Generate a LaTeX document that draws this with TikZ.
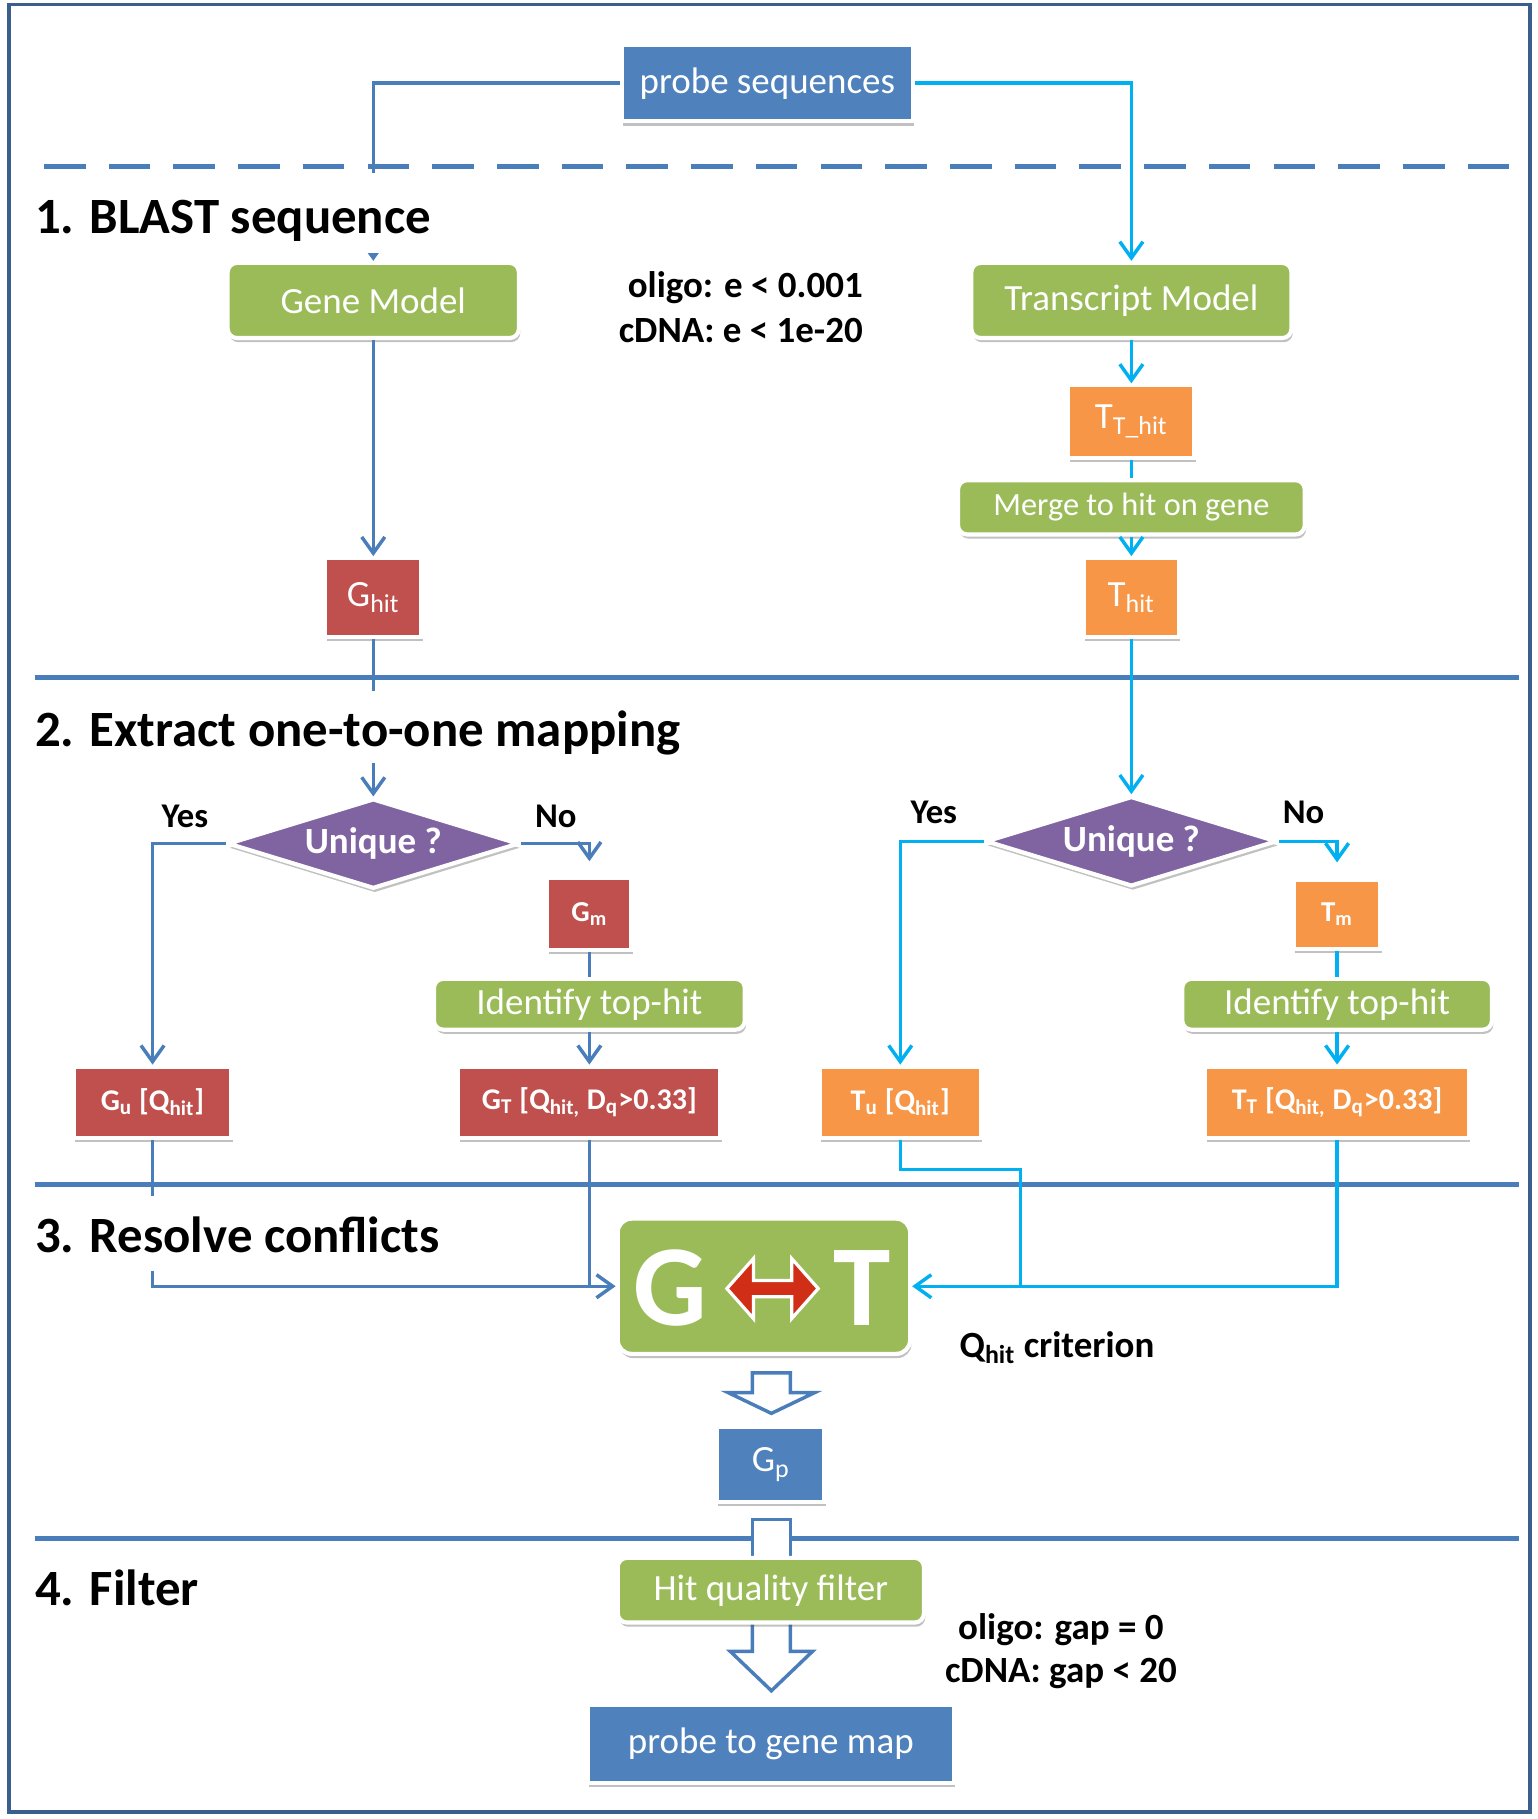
\documentclass[tikz,border=0pt]{standalone}
\usepackage{fontspec}
\setmainfont{Carlito}
\usetikzlibrary{arrows.meta,shapes.geometric,shadows,calc}
\definecolor{cblue}{HTML}{4F81BD}
\definecolor{cgreen}{HTML}{9BBB59}
\definecolor{cred}{HTML}{C0504D}
\definecolor{corange}{HTML}{F79646}
\definecolor{cpurple}{HTML}{8064A2}
\definecolor{ccyan}{HTML}{00B0F0}
\definecolor{cline}{HTML}{4A7EBB}
\definecolor{cframe}{HTML}{3B5F8C}
\definecolor{carrowred}{RGB}{208,46,22}
\newcommand{\myfs}[1]{\fontsize{#1}{#1}\selectfont}
\pgfdeclarelayer{bg}
\pgfsetlayers{bg,main}
\begin{document}
\begin{tikzpicture}[x=0.5pt,y=-0.5pt,
  box/.style={draw=white, line width=1.8pt, text=white, inner sep=0pt, align=center,
    drop shadow={shadow xshift=0.6pt, shadow yshift=-1.8pt, opacity=0.35, fill=black!70}},
  bluebox/.style={box, fill=cblue, font=\myfs{16pt}},
  greenbox/.style={box, fill=cgreen, rounded corners=4pt, font=\myfs{16pt}},
  redbox/.style={box, fill=cred, font=\myfs{16pt}},
  orbox/.style={box, fill=corange, font=\myfs{16pt}},
  smallbold/.style={font=\bfseries\myfs{13pt}},
  dia/.style={diamond, fill=cpurple, draw=white, line width=1.8pt, text=white,
    font=\bfseries\myfs{16pt}, inner sep=0pt, minimum width=126pt, minimum height=39pt,
    shape aspect=3.2, drop shadow={shadow xshift=0.6pt, shadow yshift=-1.8pt, opacity=0.35, fill=black!70}},
  lab/.style={font=\bfseries\myfs{16pt}, inner sep=0pt},
  yn/.style={font=\bfseries\myfs{15pt}, inner sep=0pt},
  title/.style={font=\bfseries\myfs{22pt}, fill=white, inner sep=0pt, anchor=base west},
  sl/.style={draw=cline, line width=1.5pt},
  cl/.style={draw=ccyan, line width=1.5pt},
  arr/.style={-{Straight Barb[length=7pt,width=10pt]}},
  blockarrow/.style={draw=cline, fill=white, line width=1.5pt, line join=miter}
]
\useasboundingbox (0,0) rectangle (1330,1574);
\draw[cframe, line width=1.6pt] (8,4) rectangle (1324,1568);

% ---- nodes ----
\node[bluebox, minimum width=126pt, minimum height=33pt] (probe) at (664,72) {probe sequences};
\node[greenbox, minimum width=126pt, minimum height=32.5pt] (gm) at (323,260) {Gene Model};
\node[greenbox, minimum width=138.5pt, minimum height=32.5pt] (tm) at (979,260) {Transcript Model};
\node[orbox, minimum width=54.5pt, minimum height=31.5pt] (tth) at (979,365) {T\textsubscript{T\_hit}};
\node[greenbox, minimum width=150pt, minimum height=23.5pt, font=\myfs{14pt}] (merge) at (979,439) {Merge to hit on gene};
\node[redbox, minimum width=41.5pt, minimum height=34pt] (ghit) at (323,517) {G\textsubscript{hit}};
\node[orbox, minimum width=41pt, minimum height=34pt] (thit) at (979,517) {T\textsubscript{hit}};

\node[dia] (ld) at (323,730) {Unique ?};
\node[dia] (rd) at (979,728) {Unique ?};

\node[redbox, font=\bfseries\myfs{12.5pt}, minimum width=36.5pt, minimum height=31pt] (gmm) at (510,791) {G\textsubscript{m}};
\node[greenbox, minimum width=134.5pt, minimum height=22pt] (idl) at (510,869) {Identify top-hit};
\node[redbox, smallbold, minimum width=113.5pt, minimum height=31pt] (gt) at (510,954) {G\textsubscript{T} [Q\textsubscript{hit,} D\textsubscript{q}>0.33]};
\node[redbox, smallbold, minimum width=68pt, minimum height=31pt] (gu) at (132,954) {G\textsubscript{u} [Q\textsubscript{hit}]};

\node[orbox, font=\bfseries\myfs{12.5pt}, minimum width=37.5pt, minimum height=30pt] (tmm) at (1157,791) {T\textsubscript{m}};
\node[greenbox, minimum width=134pt, minimum height=22pt] (idr) at (1157,869) {Identify top-hit};
\node[orbox, smallbold, minimum width=114pt, minimum height=31pt] (tt) at (1157,954) {T\textsubscript{T} [Q\textsubscript{hit,} D\textsubscript{q}>0.33]};
\node[orbox, smallbold, minimum width=69.5pt, minimum height=31pt] (tu) at (779,954) {T\textsubscript{u} [Q\textsubscript{hit}]};

\node[greenbox, rounded corners=6pt, minimum width=126.5pt, minimum height=58.5pt] (gtbox) at (661,1113) {};
\node[text=white, font=\bfseries\myfs{50pt}, inner sep=0pt, anchor=base] (gl) at (580,1147) {G};
\node[text=white, font=\bfseries\myfs{50pt}, inner sep=0pt, anchor=base] (tl) at (746,1147) {T};
\fill[carrowred, draw=white, line width=1.4pt, line join=miter]
  (629,1115) -- (652,1089) -- (652,1108) -- (685,1108) -- (685,1089) -- (708,1115)
  -- (685,1141) -- (685,1122) -- (652,1122) -- (652,1141) -- cycle;

\node[bluebox, minimum width=46.5pt, minimum height=32.5pt] (gp) at (667,1267) {G\textsubscript{p}};
\node[greenbox, minimum width=132.5pt, minimum height=28pt] (hqf) at (667,1376) {Hit quality filter};
\node[bluebox, minimum width=158.5pt, minimum height=33.5pt] (ptg) at (667,1509) {probe to gene map};

% ---- background: section lines and block arrows ----
\begin{pgfonlayer}{bg}
\draw[cline, line width=2pt, dash pattern=on 18pt off 10pt] (38,144) -- (1310,144);
\draw[cline, line width=2pt] (30,586) -- (1314,586);
\draw[cline, line width=2pt] (30,1025) -- (1314,1025);
\draw[cline, line width=2pt] (30,1331) -- (1314,1331);
\draw[blockarrow] (651,1188) -- (684,1188) -- (684,1205) -- (705,1205) -- (667.5,1223)
  -- (630,1205) -- (651,1205) -- cycle;
\draw[blockarrow] (651,1315) rectangle (684,1352);
\draw[blockarrow] (651,1398) -- (651,1429) -- (632,1429) -- (667.5,1463) -- (703,1429)
  -- (684,1429) -- (684,1398);
\end{pgfonlayer}

% ---- connectors ----
\draw[sl, arr] (probe.west) -| (gm.north);
\draw[cl, arr] (probe.east) -| (tm.north);
\draw[sl, arr] (gm.south) -- (ghit.north);
\draw[sl, arr] (ghit.south) -- (ld.north);
\draw[cl, arr] (tm.south) -- (tth.north);
\draw[cl] (tth.south) -- (merge.north);
\draw[cl, arr] (merge.south) -- (thit.north);
\draw[cl, arr] (thit.south) -- (rd.north);
\draw[sl, arr] (ld.west) -| (gu.north);
\coordinate (gmmin) at ($(gmm.north)+(0,-13)$);
\draw[sl, arr] (ld.east) -| (gmmin);
\draw[sl] (gmm.south) -- (idl.north);
\draw[sl, arr] (idl.south) -- (gt.north);
\draw[cl, arr] (rd.west) -| (tu.north);
\coordinate (tmmin) at ($(tmm.north)+(0,-13)$);
\draw[cl, arr] (rd.east) -| (tmmin);
\draw[cl] (tmm.south) -- (idr.north);
\draw[cl, arr] (idr.south) -- (tt.north);
\draw[sl, arr] (gu.south) |- (gtbox.west);
\draw[sl] (gt.south) -- (gt.south |- gtbox.west);
\coordinate (tuk) at (883,1012);
\draw[cl] (tu.south) |- (tuk) -- (tuk |- gtbox.east);
\draw[cl, arr] (tt.south) |- (gtbox.east);

% ---- titles (white background hides lines beneath) ----
\node[title, text height=26pt, text depth=8.5pt] (t1) at (30,202) {1. BLAST sequence};
\node[title, text height=24pt, text depth=7pt] (t2) at (30,646) {2. Extract one-to-one mapping};
\node[title, text height=24.5pt, text depth=8pt] (t3) at (30,1084) {3. Resolve conflicts};
\node[title] (t4) at (30,1389) {4. Filter};

% ---- labels ----
\node[lab, anchor=base east] (l1) at (747,257) {oligo: e < 0.001};
\node[lab, anchor=base east] (l2) at (747,296) {cDNA: e < 1e-20};
\node[yn] (y1) at (160,706) {Yes};
\node[yn] (n1) at (481,706) {No};
\node[yn] (y2) at (808,703) {Yes};
\node[yn] (n2) at (1128,703) {No};
\node[lab, anchor=base west] (qc) at (830,1175) {Q\textsubscript{hit} criterion};
\node[lab] (g1) at (918,1410) {oligo: gap = 0};
\node[lab] (g2) at (918,1448) {cDNA: gap < 20};
\end{tikzpicture}
\end{document}
